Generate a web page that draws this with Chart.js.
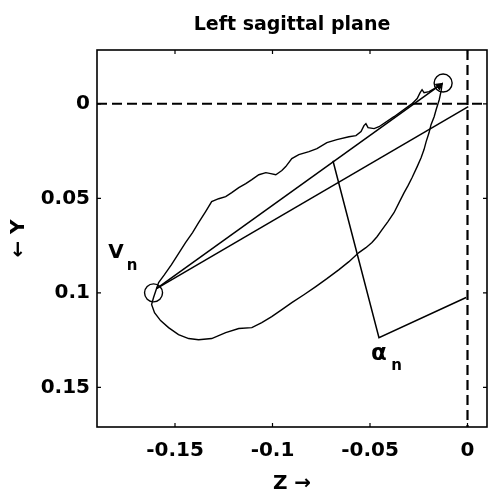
<!DOCTYPE html>
<html><head><meta charset="utf-8">
<script src="https://cdn.jsdelivr.net/npm/chart.js@4.4.0/dist/chart.umd.min.js"></script>
<style>html,body{margin:0;padding:0;background:#fff;}canvas{display:block;}</style>
</head><body>
<canvas id="c" width="489" height="494"></canvas>
<script>
// ---- data ----
const loopZ = [-0.1595,-0.1584,-0.1554,-0.1518,-0.1482,-0.1446,-0.1410,-0.1379,-0.1343,-0.1312,-0.1276,-0.1240,-0.1209,-0.1173,-0.1137,-0.1106,-0.1070,-0.1034,-0.1009,-0.0983,-0.0952,-0.0932,-0.0901,-0.0865,-0.0813,-0.0772,-0.0721,-0.0670,-0.0608,-0.0572,-0.0546,-0.0531,-0.0521,-0.0510,-0.0479,-0.0454,-0.0377,-0.0284,-0.0258,-0.0243,-0.0233,-0.0223,-0.0197,-0.0161,-0.0130,-0.0135,-0.0145,-0.0161,-0.0171,-0.0187,-0.0197,-0.0212,-0.0223,-0.0238,-0.0258,-0.0284,-0.0305,-0.0325,-0.0351,-0.0377,-0.0408,-0.0438,-0.0464,-0.0490,-0.0521,-0.0557,-0.0608,-0.0659,-0.0721,-0.0778,-0.0839,-0.0901,-0.0952,-0.1004,-0.1055,-0.1106,-0.1173,-0.1240,-0.1312,-0.1379,-0.1430,-0.1482,-0.1533,-0.1574,-0.1605,-0.1620,-0.1610,-0.1595];
const loopY = [0.0978,0.0946,0.0904,0.0851,0.0793,0.0734,0.0681,0.0629,0.0570,0.0517,0.0502,0.0491,0.0470,0.0443,0.0422,0.0401,0.0375,0.0364,0.0369,0.0375,0.0353,0.0332,0.0290,0.0269,0.0253,0.0237,0.0205,0.0189,0.0174,0.0168,0.0147,0.0115,0.0105,0.0126,0.0131,0.0121,0.0068,-0.0001,-0.0028,-0.0059,-0.0075,-0.0059,-0.0065,-0.0086,-0.0107,-0.0070,-0.0022,0.0031,0.0068,0.0110,0.0152,0.0200,0.0242,0.0285,0.0332,0.0390,0.0433,0.0470,0.0523,0.0576,0.0623,0.0666,0.0703,0.0734,0.0761,0.0787,0.0835,0.0877,0.0925,0.0967,0.1010,0.1052,0.1089,0.1126,0.1158,0.1184,0.1189,0.1211,0.1242,0.1248,0.1242,0.1221,0.1184,0.1147,0.1105,0.1062,0.1025,0.0978];

const circleZ = [-0.1610, -0.0125];
const circleY = [0.1000, -0.0110];

const vectorZ = [-0.1595, -0.0130];     // V_n -> end point (with arrow)
const vectorY = [0.0978, -0.0107];
const arrowZ = [-0.0146];
const arrowY = [-0.0095];

const axisLineZ = [-0.1595, 0.0004];    // V_n -> origin
const axisLineY = [0.0978, 0.0015];

const angleZ = [-0.0690, -0.0454, -0.0007];
const angleY = [0.0301, 0.1237, 0.1025];

const xTicks = [-0.15, -0.1, -0.05, 0];
const xTickLabels = ['-0.15', '-0.1', '-0.05', '0'];
const yTicks = [0, 0.05, 0.1, 0.15];
const yTickLabels = ['0', '0.05', '0.1', '0.15'];
const xRange = [-0.19, 0.01];
const yRange = [-0.0285, 0.171];

const labelMain = ['V', 'α'];
const labelMainZ = [-0.1803, -0.0454];
const labelMainY = [0.0790, 0.1324];
const labelSub = ['n', 'n'];
const labelSubZ = [-0.1720, -0.0364];
const labelSubY = [0.0861, 0.1390];

// ---- build ----
const pts = (zs, ys) => zs.map((z, i) => ({x: z, y: ys[i]}));
const FONT = 'DejaVu Sans';
const lineDs = (data, w, dash) => ({
  data, showLine: true, borderColor: '#000', borderWidth: w, pointRadius: 0,
  fill: false, tension: 0, borderDash: dash || [], clip: false
});

const framePlugin = {
  id: 'frame',
  afterDatasetsDraw(chart) {
    const {ctx, chartArea: a, scales: {x, y}} = chart;
    ctx.save();
    ctx.strokeStyle = '#000';
    ctx.lineWidth = 1.6;
    ctx.strokeRect(a.left, a.top, a.right - a.left, a.bottom - a.top);
    ctx.lineWidth = 1.2;
    const L = 4;
    ctx.beginPath();
    xTicks.forEach(v => {
      const px = x.getPixelForValue(v);
      ctx.moveTo(px, a.bottom); ctx.lineTo(px, a.bottom - L);
      ctx.moveTo(px, a.top); ctx.lineTo(px, a.top + L);
    });
    yTicks.forEach(v => {
      const py = y.getPixelForValue(v);
      ctx.moveTo(a.left, py); ctx.lineTo(a.left + L, py);
      ctx.moveTo(a.right, py); ctx.lineTo(a.right - L, py);
    });
    ctx.stroke();
    ctx.fillStyle = '#000';
    ctx.textAlign = 'center';
    ctx.textBaseline = 'middle';
    labelMain.forEach((t, i) => {
      ctx.font = 'bold ' + (t === 'α' ? 23 : 20) + 'px "' + FONT + '"';
      ctx.fillText(t, x.getPixelForValue(labelMainZ[i]), y.getPixelForValue(labelMainY[i]));
      ctx.font = 'bold 15px "' + FONT + '"';
      ctx.fillText(labelSub[i], x.getPixelForValue(labelSubZ[i]), y.getPixelForValue(labelSubY[i]));
    });
    ctx.restore();
  }
};

new Chart(document.getElementById('c'), {
  type: 'scatter',
  data: {
    datasets: [
      lineDs(pts(loopZ, loopY), 1.4),
      lineDs(pts(vectorZ, vectorY), 1.5),
      lineDs(pts(axisLineZ, axisLineY), 1.5),
      lineDs(pts(angleZ, angleY), 1.5),
      lineDs([{x: xRange[0], y: 0}, {x: xRange[1], y: 0}], 2, [10, 5]),
      lineDs([{x: 0, y: yRange[0]}, {x: 0, y: yRange[1]}], 2.2, [10, 5]),
      { data: pts(circleZ, circleY), showLine: false, pointStyle: 'circle', pointRadius: 9,
        borderColor: '#000', borderWidth: 1.4, backgroundColor: 'rgba(0,0,0,0)' },
      { data: pts(arrowZ, arrowY), showLine: false, pointStyle: 'triangle', pointRadius: 4,
        rotation: 54, borderColor: '#000', borderWidth: 1, backgroundColor: '#000' }
    ]
  },
  options: {
    responsive: false,
    animation: false,
    devicePixelRatio: 1,
    layout: {autoPadding: false, padding: {top: 0, right: 2, bottom: 0, left: 0}},
    plugins: {
      legend: {display: false},
      tooltip: {enabled: false},
      title: {
        display: true, text: 'Left sagittal plane', fullSize: false, color: '#000',
        font: {family: FONT, size: 19, weight: 'bold', lineHeight: 1.2},
        padding: {top: 14, bottom: 13.2}
      }
    },
    scales: {
      x: {
        type: 'linear', min: xRange[0], max: xRange[1],
        grid: {display: false, drawTicks: false}, border: {display: false},
        afterBuildTicks: s => { s.ticks = xTicks.map(v => ({value: v})); },
        afterFit: s => { s.height = 67; s.paddingLeft = 0; s.paddingRight = 0; },
        ticks: {
          callback: v => xTickLabels[xTicks.indexOf(v)], autoSkip: false, maxRotation: 0,
          color: '#000', padding: 12, font: {family: FONT, size: 20, weight: 'bold'}
        },
        title: {display: true, text: 'Z →', color: '#000', padding: {top: 0, bottom: 0},
          font: {family: FONT, size: 20, weight: 'bold', lineHeight: 1}}
      },
      y: {
        type: 'linear', reverse: true, min: yRange[0], max: yRange[1],
        grid: {display: false, drawTicks: false}, border: {display: false},
        afterBuildTicks: s => { s.ticks = yTicks.map(v => ({value: v})); },
        afterFit: s => { s.width = 97; s.paddingTop = 0; s.paddingBottom = 0; },
        ticks: {
          callback: v => yTickLabels[yTicks.indexOf(v)], autoSkip: false,
          color: '#000', padding: 7, font: {family: FONT, size: 20, weight: 'bold'}
        },
        title: {display: true, text: '← Y', color: '#000', padding: {top: 7, bottom: 0},
          font: {family: FONT, size: 20, weight: 'bold', lineHeight: 1.2}}
      }
    }
  },
  plugins: [framePlugin]
});
</script>
</body></html>
